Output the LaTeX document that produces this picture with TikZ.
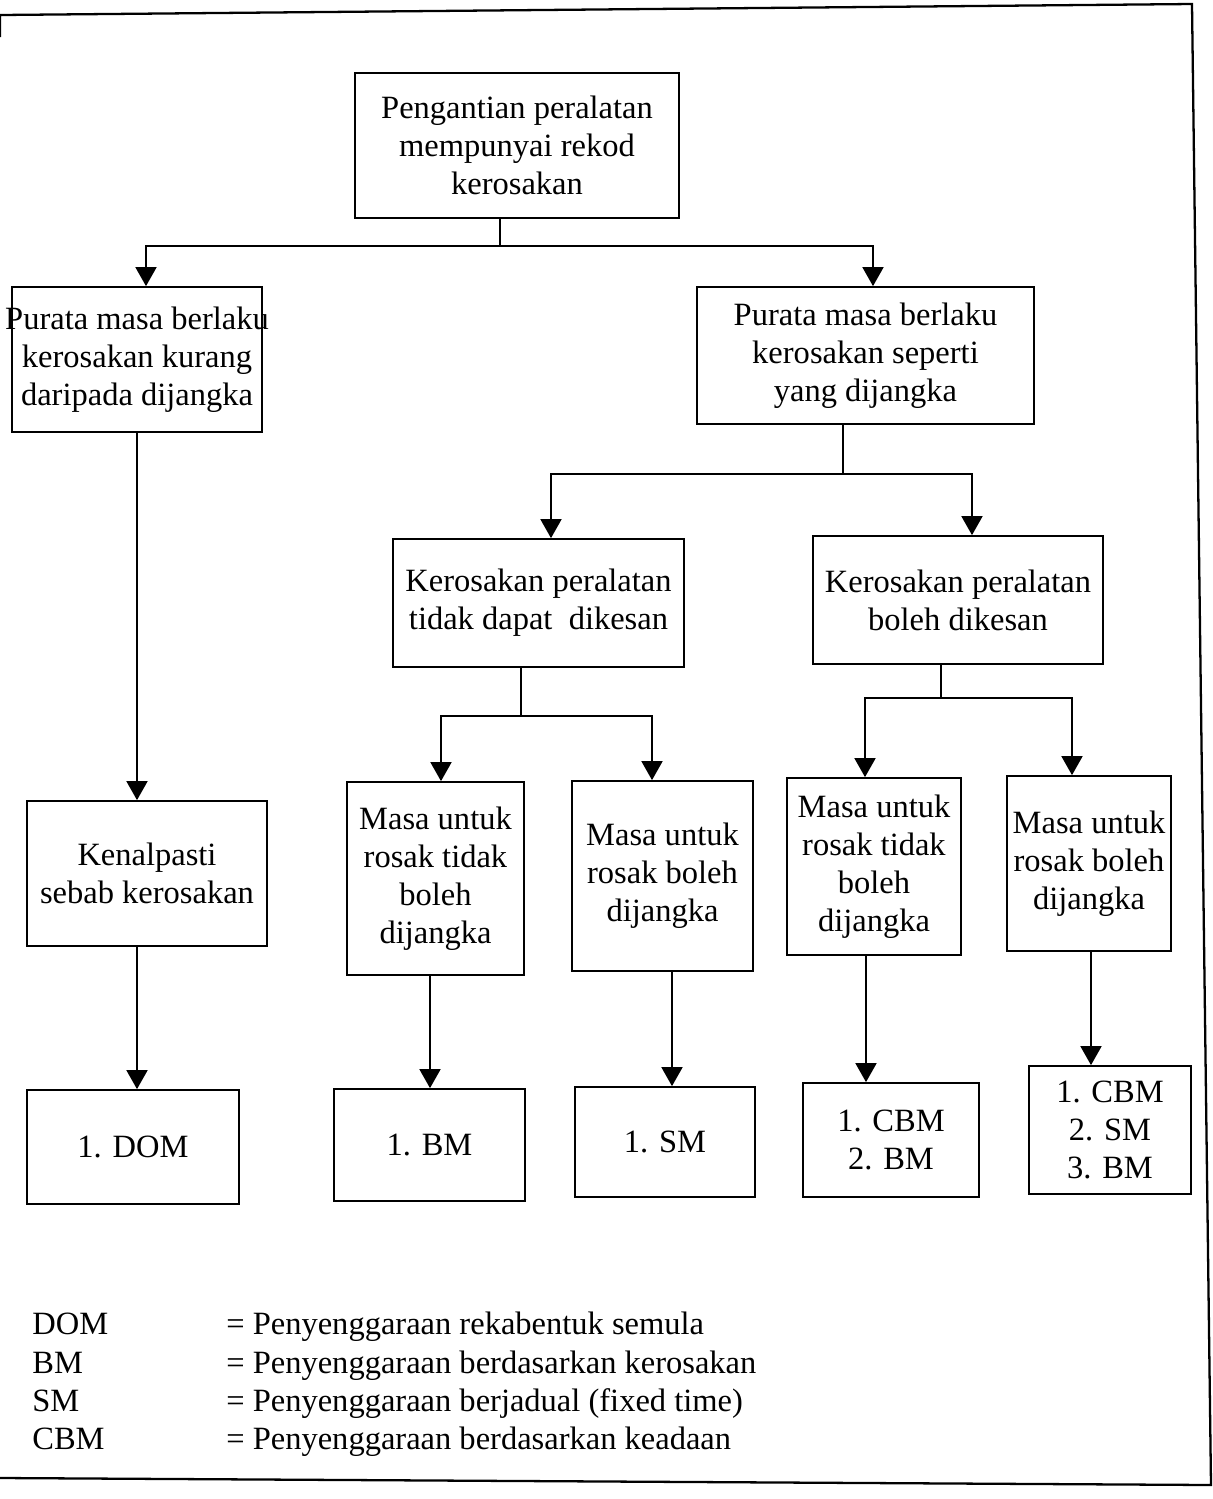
\documentclass[tikz,border=0pt]{standalone}
\usepackage{fontspec}
\setmainfont{Liberation Serif}
\usetikzlibrary{arrows.meta}

% zero-width line, so a long line may run past its box without widening it
\newcommand\zw[1]{\makebox[0pt]{#1}}
% box given by its corners: name, x1, y1, x2, y2, text
\newcommand\bx[6]{\node[box, minimum width={(#4-#2)*0.02cm}, minimum height={(#5-#3)*0.02cm}] (#1) at ({(#2+#4)/2},{(#3+#5)/2}) {#6};}

\tikzset{
  box/.style={draw, line width=1pt, inner sep=0pt, align=center,
              font=\fontsize{18.5pt}{21.6pt}\selectfont},
  link/.style={line width=1pt},
  arr/.style={line width=1pt, -{Triangle[width=0.42cm,length=0.38cm]}},
  leg/.style={inner sep=0pt, font=\fontsize{18.5pt}{21.6pt}\selectfont},
  frame/.style={line width=1.3pt}
}

\begin{document}
\begin{tikzpicture}[x=0.02cm, y=-0.02cm]
\useasboundingbox (0,0) rectangle (1213,1499);

% outer frame
\draw[frame] (0,37) -- (0,15) -- (1192,4) -- (1211,1485) -- (0,1478);

% boxes
\bx{rekod}{355}{73}{679}{218}{Pengantian peralatan\\mempunyai rekod\\kerosakan}
\bx{kurang}{12}{287}{262}{432}{\zw{Purata masa berlaku}\\\zw{kerosakan kurang}\\\zw{daripada dijangka}}
\bx{seperti}{697}{287}{1034}{424}{Purata masa berlaku\\kerosakan seperti\\yang dijangka}
\bx{tdkesan}{393}{539}{684}{667}{Kerosakan peralatan\\tidak dapat\ \ dikesan}
\bx{blkesan}{813}{536}{1103}{664}{Kerosakan peralatan\\boleh dikesan}
\bx{sebab}{27}{801}{267}{946}{Kenalpasti\\sebab kerosakan}
\bx{mtA}{347}{782}{524}{975}{Masa untuk\\rosak tidak\\boleh\\dijangka}
\bx{mbA}{572}{781}{753}{971}{Masa untuk\\rosak boleh\\dijangka}
\bx{mtB}{787}{778}{961}{955}{Masa untuk\\rosak tidak\\boleh\\dijangka}
\bx{mbB}{1007}{776}{1171}{951}{\zw{Masa untuk}\\\zw{rosak boleh}\\\zw{dijangka}}
\bx{dom}{27}{1090}{239}{1204}{1. DOM}
\bx{bm}{334}{1089}{525}{1201}{1. BM}
\bx{sm}{575}{1087}{755}{1197}{1. SM}
\bx{cbmbm}{803}{1083}{979}{1197}{1. CBM\\2. BM}
\bx{cbmsmbm}{1029}{1066}{1191}{1194}{1. CBM\\2. SM\\3. BM}

% branch points
\coordinate (j1) at (500,246);
\coordinate (j2) at (843,474);
\coordinate (j3) at (521,716);
\coordinate (j4) at (941,698);

% connectors
\draw[link] (rekod.south -| j1) -- (j1);
\draw[arr] (j1) -| ([xshift=0.18cm]kurang.north);
\draw[arr] (j1) -| ([xshift=0.15cm]seperti.north);

\draw[link] (seperti.south -| j2) -- (j2);
\draw[arr] (j2) -| ([xshift=0.25cm]tdkesan.north);
\draw[arr] (j2) -| ([xshift=0.28cm]blkesan.north);

\draw[link] (tdkesan.south -| j3) -- (j3);
\draw[arr] (j3) -| ([xshift=0.11cm]mtA.north);
\draw[arr] (j3) -| ([xshift=-0.21cm]mbA.north);

\draw[link] (blkesan.south -| j4) -- (j4);
\draw[arr] (j4) -| ([xshift=-0.18cm]mtB.north);
\draw[arr] (j4) -| ([xshift=-0.34cm]mbB.north);

\draw[arr] (kurang.south) -- (kurang.south |- sebab.north);
\draw[arr] ([xshift=-0.2cm]sebab.south) -- ([xshift=-0.2cm]sebab.south |- dom.north);
\draw[arr] ([xshift=-0.11cm]mtA.south) -- ([xshift=-0.11cm]mtA.south |- bm.north);
\draw[arr] ([xshift=0.19cm]mbA.south) -- ([xshift=0.19cm]mbA.south |- sm.north);
\draw[arr] ([xshift=-0.16cm]mtB.south) -- ([xshift=-0.16cm]mtB.south |- cbmbm.north);
\draw[arr] ([xshift=0.04cm]mbB.south) -- ([xshift=0.04cm]mbB.south |- cbmsmbm.north);

% key to the abbreviations
\node[leg, anchor=base west] (kDOM) at (32,1334) {DOM};
\node[leg, anchor=base west] (kBM)  at (32,1373) {BM};
\node[leg, anchor=base west] (kSM)  at (32,1411) {SM};
\node[leg, anchor=base west] (kCBM) at (32,1449) {CBM};
\node[leg, anchor=base west] (dDOM) at (226,1334) {= Penyenggaraan rekabentuk semula};
\node[leg, anchor=base west] (dBM)  at (226,1373) {= Penyenggaraan berdasarkan kerosakan};
\node[leg, anchor=base west] (dSM)  at (226,1411) {= Penyenggaraan berjadual (fixed time)};
\node[leg, anchor=base west] (dCBM) at (226,1449) {= Penyenggaraan berdasarkan keadaan};
\end{tikzpicture}
\end{document}
